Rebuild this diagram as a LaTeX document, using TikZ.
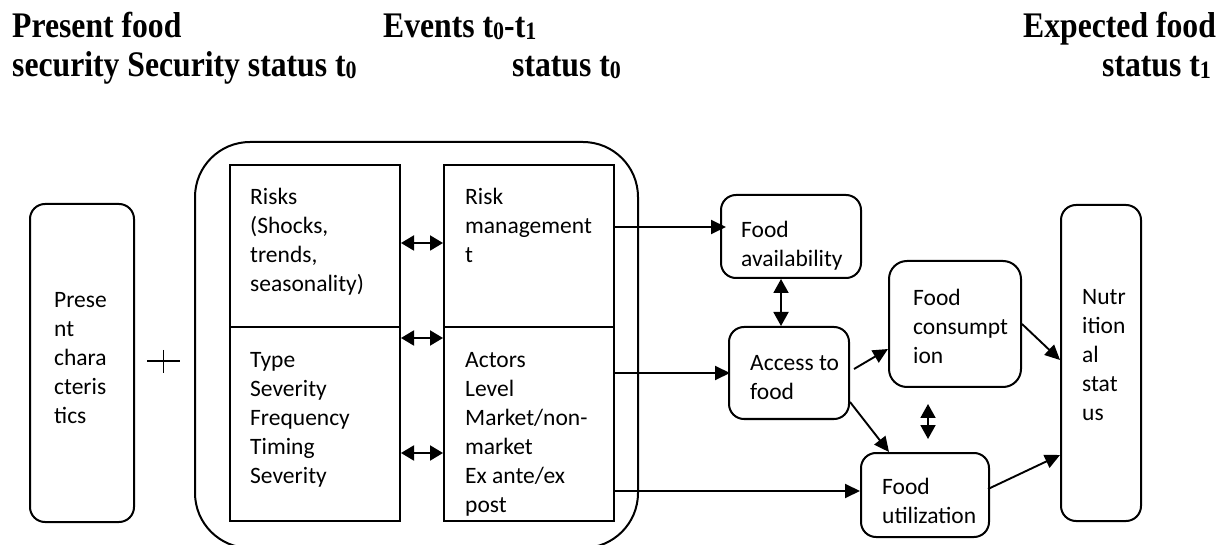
\documentclass[tikz,border=0pt]{standalone}
\usepackage{fontspec}
\setmainfont{Carlito}
\newfontfamily\hdrfont{Liberation Serif}[FakeStretch=0.88]
\usetikzlibrary{arrows.meta}
\newcommand\subd[1]{\raisebox{-1.5pt}{\fontsize{25}{25}\selectfont #1}}
\newcommand\fl{\rule{0pt}{20pt}}
\begin{document}
\begin{tikzpicture}[x=1pt,y=-1pt,
 box/.style={draw,line width=2pt,inner sep=0pt},
 rbox/.style={box,rounded corners=15pt},
 txt/.style={inner sep=0pt,anchor=north west,align=left,font=\fontsize{23.5}{29}\selectfont},
 hdr/.style={inner sep=0pt,anchor=base west,font=\hdrfont\bfseries\fontsize{36}{39}\selectfont},
 arr/.style={line width=1.9pt,-{Triangle[length=15pt,width=14pt]}},
 darr/.style={line width=1.9pt,{Triangle[length=13pt,width=15pt]}-{Triangle[length=13pt,width=15pt]}},
 varr/.style={line width=1.9pt,{Triangle[length=14pt,width=15pt]}-{Triangle[length=14pt,width=15pt]}},
]
\useasboundingbox (0,0) rectangle (1227,545);
\fill[white] (0,0) rectangle (1227,545);

% headers
\node[hdr] (h1) at (12,38) {Present food};
\node[hdr] (h2) at (12,77) {security Security status t\subd{0}};
\node[hdr] (h3) at (383,38) {Events t\subd{0}-t\subd{1}};
\node[hdr] (h4) at (512,77) {status t\subd{0}};
\node[hdr] (h5) at (1023,38) {Expected food};
\node[hdr] (h6) at (1102,77) {status t\subd{1}};

% boxes
\node[rbox,minimum width=104pt,minimum height=318pt] (pres) at (82,363) {};
\node[box,rounded corners=55pt,minimum width=443pt,minimum height=406pt] (big) at (416.5,345) {};
\node[box,minimum width=170pt,minimum height=162pt] (risk) at (315,246) {};
\node[box,minimum width=170pt,minimum height=194pt] (type) at (315,424) {};
\node[box,minimum width=170pt,minimum height=162pt] (rman) at (529,246) {};
\node[box,minimum width=170pt,minimum height=194pt] (act) at (529,424) {};
\node[rbox,minimum width=140pt,minimum height=83pt] (avail) at (791,236.5) {};
\node[rbox,minimum width=120pt,minimum height=92pt] (access) at (789,373) {};
\node[box,rounded corners=18pt,minimum width=132pt,minimum height=126pt] (cons) at (955,324) {};
\node[rbox,minimum width=128pt,minimum height=84pt] (util) at (925,495) {};
\node[rbox,minimum width=80pt,minimum height=316pt] (nutr) at (1101,363) {};

% texts
\node[txt] (tpres) at (54,287) {\fl Prese\\nt\\chara\\cteris\\tics};
\node[txt] (trisk) at (250,184) {\fl Risks\\(Shocks,\\trends,\\seasonality)};
\node[txt] (ttype) at (250,347) {\fl Type\\Severity\\Frequency\\Timing\\Severity};
\node[txt] (trman) at (465,184) {\fl Risk\\management\\t};
\node[txt] (tact) at (465,347) {\fl Actors\\Level\\Market/non-\\market\\Ex ante/ex\\post};
\node[txt] (tavail) at (741,217) {\fl Food\\availability};
\node[txt] (taccess) at (750,350) {\fl Access to\\food};
\node[txt] (tcons) at (913,285) {\fl Food\\consumpt\\ion};
\node[txt] (tutil) at (882,474) {\fl Food\\utilization};
\node[txt] (tnutr) at (1082,284) {\fl Nutr\\ition\\al\\stat\\us};

% plus sign
\draw[line width=1.2pt] (147,361) -- (180,361) (163.5,350) -- (163.5,373);

% double arrows between inner boxes
\draw[darr] ([yshift=3pt]risk.east) -- ([yshift=3pt]risk.east -| rman.west);
\draw[darr] ([yshift=86pt]type.east) -- ([yshift=86pt]type.east -| act.west);
\draw[darr] ([yshift=-29pt]type.east) -- ([yshift=-29pt]type.east -| act.west);

% arrows out of the events box
\draw[arr] ([yshift=19pt]rman.east) -- ([yshift=19pt,xshift=6pt]rman.east -| avail.west);
\draw[arr] (act.east |- access.west) -- ([xshift=2pt]access.west);
\draw[arr] ([yshift=-67pt]act.east) -- ([yshift=-67pt]act.east -| util.west);

% right part
\draw[varr] ([xshift=-10pt]avail.south) -- ([xshift=-10pt]avail.south |- access.north);
\draw[arr] ([xshift=4pt,yshift=4pt]access.east) -- ([yshift=-25pt]cons.west);
\draw[arr] ([yshift=-29pt]access.east) -- ([xshift=-36pt]util.north);
\draw[varr] ([xshift=-27pt,yshift=-16pt]cons.south) -- ([xshift=3pt,yshift=13pt]util.north);
\draw[arr] (cons.east) -- ([yshift=3pt]nutr.west);
\draw[arr] ([xshift=-2pt,yshift=6pt]util.east) -- ([yshift=-92pt]nutr.west);
\end{tikzpicture}
\end{document}
